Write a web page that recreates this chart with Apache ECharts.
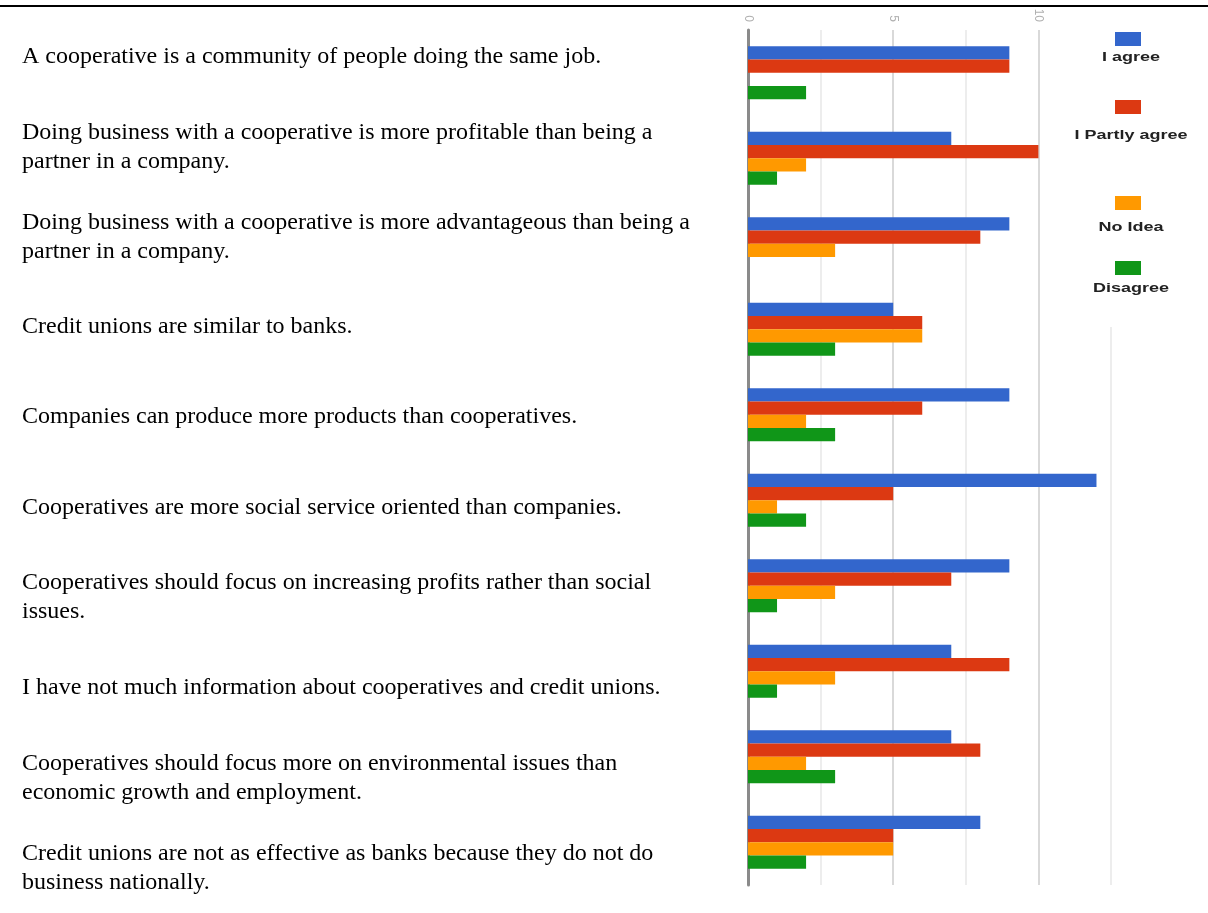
<!DOCTYPE html>
<html>
<head>
<meta charset="utf-8">
<script src="https://cdn.jsdelivr.net/npm/echarts@6/dist/echarts.min.js"></script>
<style>html,body{margin:0;padding:0;background:#fff;}#c{width:1208px;height:913px;}</style>
</head>
<body>
<div id="c"></div>
<script>
const categories = [
  "A cooperative is a community of people doing the same job.",
  "Doing business with a cooperative is more profitable than being a\npartner in a company.",
  "Doing business with a cooperative is more advantageous than being a\npartner in a company.",
  "Credit unions are similar to banks.",
  "Companies can produce more products than cooperatives.",
  "Cooperatives are more social service oriented than companies.",
  "Cooperatives should focus on increasing profits rather than social\nissues.",
  "I have not much information about cooperatives and credit unions.",
  "Cooperatives should focus more on environmental issues than\neconomic growth and employment.",
  "Credit unions are not as effective as banks because they do not do\nbusiness nationally."
];
const seriesNames = ["I agree", "I Partly agree", "No Idea", "Disagree"];
const agree    = [9, 7, 9, 5, 9, 12, 9, 7, 7, 8];
const partly   = [9, 10, 8, 6, 6, 5, 7, 9, 8, 5];
const noIdea   = [0, 2, 3, 6, 2, 1, 3, 3, 2, 5];
const disagree = [2, 1, 0, 3, 3, 2, 1, 1, 3, 2];
const tickValues = [0, 5, 10];

const colors = ['#3366cc', '#dc3912', '#ff9900', '#109618'];
const seriesData = [agree, partly, noIdea, disagree];
const legendIconTops = [32, 100, 196, 261];
const legendTextYs = [58, 136, 228, 289];

const chart = echarts.init(document.getElementById('c'));
const option = {
  animation: false,
  color: colors,
  grid: [
    { left: 748, right: 97, top: 30, bottom: 28 },
    { left: 0, width: 22, top: 11.5, height: 909 }
  ],
  xAxis: [
    {
      gridIndex: 0, type: 'value', min: 0, max: 12.5, interval: 2.5, position: 'top',
      axisLine: { show: false }, axisTick: { show: false },
      axisLabel: {
        rotate: 90, margin: 8, color: '#b0b0b0', fontSize: 12, fontFamily: 'Liberation Sans',
        formatter: v => tickValues.indexOf(v) >= 0 ? String(v) : ''
      },
      splitLine: { show: true, lineStyle: { color: ['#d9d9d9', '#ededed'], width: 2 } }
    },
    { gridIndex: 1, type: 'value', show: false }
  ],
  yAxis: [
    {
      gridIndex: 0, type: 'category', inverse: true, data: categories,
      axisLabel: { show: false }, axisTick: { show: false },
      axisLine: { show: true, lineStyle: { color: '#8a8a8a', width: 3 } }
    },
    {
      gridIndex: 1, type: 'category', inverse: true, data: categories, position: 'right',
      axisLine: { show: false }, axisTick: { show: false }, splitLine: { show: false },
      axisLabel: {
        interval: 0, margin: 0, align: 'left', color: '#000',
        fontFamily: 'Liberation Serif', fontSize: 24, lineHeight: 29
      }
    }
  ],
  legend: seriesNames.map((n, i) => ({
    data: [n], left: 1115, top: legendIconTops[i], padding: 0,
    itemWidth: 26, itemHeight: 14, icon: 'rect', selectedMode: false,
    formatter: () => '', z: 10
  })),
  graphic: [
    { type: 'line', shape: { x1: 0, y1: 6, x2: 1208, y2: 6 }, style: { stroke: '#000', lineWidth: 2 } },
    { type: 'rect', shape: { x: 1100, y: 20, width: 30, height: 307 }, style: { fill: '#fff' }, z: 1 }
  ].concat(seriesNames.map((n, i) => ({
    type: 'text', x: 1131, y: legendTextYs[i], scaleX: 1.5, z: 10,
    style: { text: n, textAlign: 'center', textVerticalAlign: 'middle', font: 'bold 12px "Liberation Sans"', fill: '#222' }
  }))),
  series: seriesNames.map((n, i) => ({
    name: n, type: 'bar', xAxisIndex: 0, yAxisIndex: 0,
    data: seriesData[i], barGap: '0%', barCategoryGap: '38%',
    itemStyle: { color: colors[i] }
  }))
};
chart.setOption(option);
</script>
</body>
</html>
